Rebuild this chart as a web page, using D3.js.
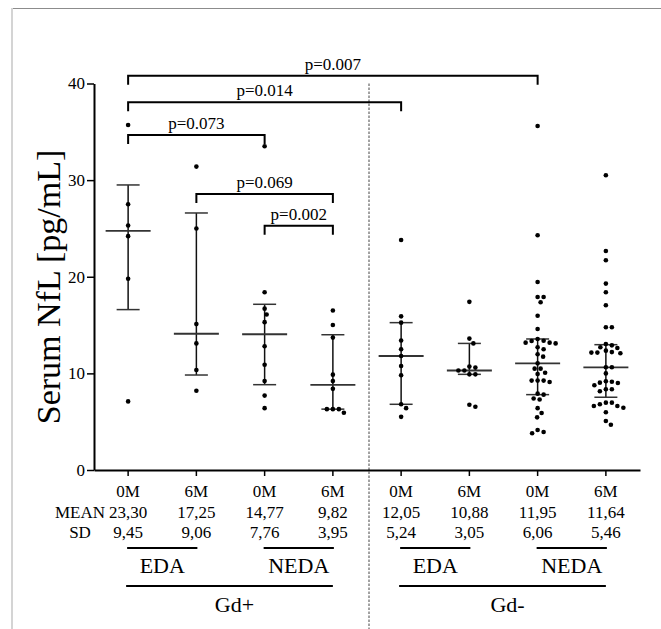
<!DOCTYPE html>
<html><head><meta charset="utf-8">
<script src="https://cdn.jsdelivr.net/npm/d3@7"></script>
<style>html,body{margin:0;padding:0;background:#fff;}svg{display:block;}</style>
</head><body><svg id="c" width="661" height="629"></svg>
<script>
// ---------- data ----------
const groupIds   = ["g1","g2","g3","g4","g5","g6","g7","g8"];
const timeLabels = ["0M","6M","0M","6M","0M","6M","0M","6M"];
const meanLabels = ["23,30","17,25","14,77","9,82","12,05","10,88","11,95","11,64"];
const sdLabels   = ["9,45","9,06","7,76","3,95","5,24","3,05","6,06","5,46"];
const yTicks = [0,10,20,30,40];

const values1 = [35.7,27.5,25.3,24.2,19.8,7.1];
const values2 = [31.4,25.0,15.1,13.1,10.35,8.2];
const values3 = [33.5,18.4,16.7,16.1,15.3,12.8,10.9,9.2,7.7,6.4];
const values4 = [16.5,15.0,13.7,9.87,9.2,8.4,6.3,6.3,6.3,5.93];
const values5 = [23.8,15.9,15.25,13.4,12.5,11.8,10.77,9.8,6.8,6.4,5.5];
const values6 = [17.4,13.6,13.1,10.7,10.6,10.3,10.3,9.9,9.9,6.76,6.55];
const values7 = [35.6,24.3,19.46,17.9,17.9,17.36,15.97,14.6,13.56,13.38,13.35,13.18,13.18,13.1,12.7,12.5,11.98,11.73,11.04,10.49,10.49,10.07,9.94,9.25,9.25,9.25,9.1,7.9,7.8,7.4,7.3,6.4,5.9,5.45,4.14,3.93,3.8];
const values8 = [30.5,22.67,21.7,19.29,18.4,17.05,14.77,14.77,13.04,12.9,12.7,12.63,12.35,12.2,12.15,12.15,12.08,10.63,10.63,10.0,9.18,9.14,9.04,9.0,8.77,8.35,8.35,8.15,6.97,6.97,6.8,6.63,6.63,6.45,5.97,5.07,4.69];
const groupValues = [values1,values2,values3,values4,values5,values6,values7,values8];

const medians = [24.75,14.1,14.05,8.8,11.8,10.3,11.04,10.63];
const lowerQ  = [16.6,9.83,8.83,6.3,6.8,9.9,7.8,7.53];
const upperQ  = [29.5,26.6,17.15,14.0,15.25,13.1,13.56,12.97];

// brackets: from group, to group, level (data units), label
const bracketFrom   = [0,0,0,1,2];
const bracketTo     = [6,4,2,3,3];
const bracketLevel  = [40.8,38.06,34.68,28.57,25.29];
const bracketLabels = ["p=0.007","p=0.014","p=0.073","p=0.069","p=0.002"];

const activityLabels = ["EDA","NEDA","EDA","NEDA"];
const activityFrom = [0,2,4,6], activityTo = [1,3,5,7];
const gdLabels = ["Gd+","Gd-"];
const gdFrom = [0,4], gdTo = [3,7];

// ---------- drawing ----------
const svg = d3.select("#c");
const FONT = "'Liberation Serif','Times New Roman',serif";

// frame
svg.append("line").attr("x1",12).attr("x2",661).attr("y1",8.5).attr("y2",8.5).attr("stroke","#8c8c8c").attr("stroke-width",1);
svg.append("line").attr("x1",12).attr("x2",12).attr("y1",8).attr("y2",629).attr("stroke","#d4d4d4").attr("stroke-width",2);

const y = d3.scaleLinear().domain([0,40]).range([470,83.5]);
const x = d3.scaleBand().domain(groupIds).range([94,640]).padding(0);
const cx = i => x(groupIds[i]) + x.bandwidth()/2;

// dashed separator
svg.append("line").attr("x1",369).attr("x2",369).attr("y1",y(40)).attr("y2",629)
  .attr("stroke","#444").attr("stroke-width",1).attr("stroke-dasharray","2.5,1.5");

// axes
const yAxis = svg.append("g").attr("transform","translate(94,0)")
  .call(d3.axisLeft(y).tickValues(yTicks).tickSize(7).tickSizeOuter(0).tickPadding(2));
yAxis.select(".domain").attr("stroke","#000").attr("stroke-width",2);
yAxis.selectAll(".tick line").attr("stroke","#000").attr("stroke-width",1.5);
yAxis.selectAll(".tick text").attr("font-family",FONT).attr("font-size",17).attr("fill","#000");

const xAxis = svg.append("g").attr("transform","translate(0,470)")
  .call(d3.axisBottom(x).tickSize(6).tickSizeOuter(0).tickFormat(""));
xAxis.select(".domain").attr("stroke","#000").attr("stroke-width",2);
xAxis.selectAll(".tick line").attr("stroke","#000").attr("stroke-width",1.5);

// y label
svg.append("text").attr("transform","translate(60,287) rotate(-90)")
  .attr("text-anchor","middle").attr("font-family",FONT).attr("font-size",34)
  .text("Serum NfL [pg/mL]");

// beeswarm
function swarm(vals, center){
  const D = 6, step = 0.5, placed = [];
  const sorted = vals.slice().sort((a,b)=>b-a);
  sorted.forEach(v=>{
    const py = y(v);
    let k = 0, dx = 0;
    while(true){
      const cand = k===0 ? 0 : (k%2===1 ? Math.ceil(k/2)*step : -Math.ceil(k/2)*step);
      const ok = placed.every(p => (p.dx-cand)**2 + (p.y-py)**2 >= D*D);
      if(ok){ dx = cand; break; }
      k++;
    }
    placed.push({dx:dx, y:py});
  });
  return placed.map(p=>({x:center+p.dx, y:p.y}));
}

groupValues.forEach((vals,i)=>{
  const c = cx(i);
  const g = svg.append("g");
  // error bar
  g.append("line").attr("x1",c).attr("x2",c).attr("y1",y(upperQ[i])).attr("y2",y(lowerQ[i]))
    .attr("stroke","#111").attr("stroke-width",1.5);
  [upperQ[i],lowerQ[i]].forEach(q=>{
    g.append("line").attr("x1",c-11.5).attr("x2",c+11.5).attr("y1",y(q)).attr("y2",y(q))
      .attr("stroke","#333").attr("stroke-width",1.5);
  });
  g.append("line").attr("x1",c-22.5).attr("x2",c+22.5).attr("y1",y(medians[i])).attr("y2",y(medians[i]))
    .attr("stroke","#333").attr("stroke-width",1.8);
  g.selectAll("circle").data(swarm(vals,c)).join("circle")
    .attr("cx",d=>d.x).attr("cy",d=>d.y).attr("r",2.3).attr("fill","#000");
});

// brackets
bracketLabels.forEach((lab,i)=>{
  const x1 = cx(bracketFrom[i]), x2 = cx(bracketTo[i]), yy = y(bracketLevel[i]);
  svg.append("path").attr("d",`M${x1},${yy+9}V${yy}H${x2}V${yy+9}`)
    .attr("fill","none").attr("stroke","#000").attr("stroke-width",2);
  svg.append("text").attr("x",(x1+x2)/2).attr("y",yy-6).attr("text-anchor","middle")
    .attr("font-family",FONT).attr("font-size",17).text(lab);
});

// table under axis
const rowLabels = [null,"MEAN","SD"];
const rows = [timeLabels, meanLabels, sdLabels];
const rowY = [497,518,538];
rows.forEach((r,ri)=>{
  r.forEach((t,i)=>{
    svg.append("text").attr("x",cx(i)).attr("y",rowY[ri]).attr("text-anchor","middle")
      .attr("font-family",FONT).attr("font-size",17).text(t);
  });
  if(rowLabels[ri]) svg.append("text").attr("x",80).attr("y",rowY[ri]).attr("text-anchor","middle")
      .attr("font-family",FONT).attr("font-size",17).text(rowLabels[ri]);
});

// group lines
activityLabels.forEach((lab,i)=>{
  const a = cx(activityFrom[i]) - 1, b = cx(activityTo[i]) + 1;
  svg.append("line").attr("x1",a).attr("x2",b).attr("y1",548).attr("y2",548).attr("stroke","#000").attr("stroke-width",2);
  svg.append("text").attr("x",(a+b)/2).attr("y",573).attr("text-anchor","middle")
    .attr("font-family",FONT).attr("font-size",22).text(lab);
});
gdLabels.forEach((lab,i)=>{
  const a = cx(gdFrom[i]) - 2, b = cx(gdTo[i]);
  svg.append("line").attr("x1",a).attr("x2",b).attr("y1",586).attr("y2",586).attr("stroke","#000").attr("stroke-width",2);
  svg.append("text").attr("x",(a+b)/2 + 5).attr("y",612).attr("text-anchor","middle")
    .attr("font-family",FONT).attr("font-size",22).text(lab);
});
</script></body></html>
